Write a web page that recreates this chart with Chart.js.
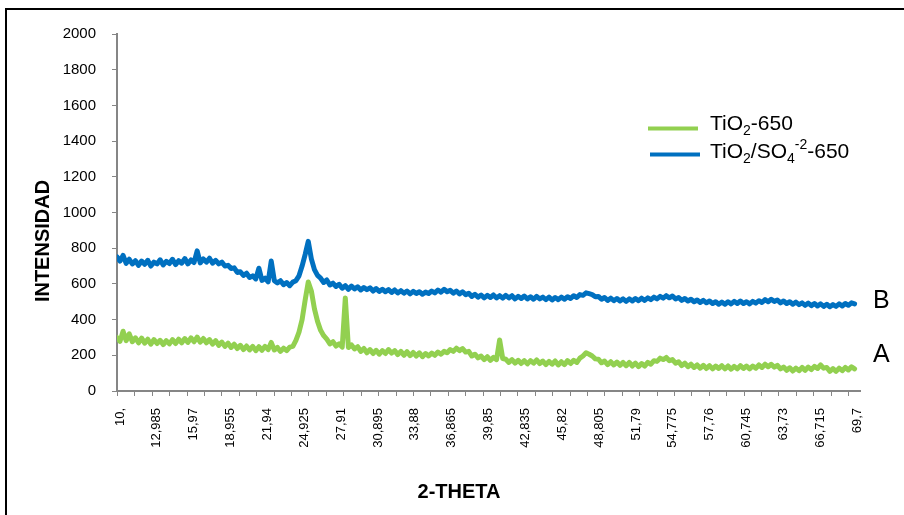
<!DOCTYPE html>
<html><head><meta charset="utf-8">
<script src="https://cdn.jsdelivr.net/npm/chart.js@4"></script>
<style>html,body{margin:0;padding:0;background:#fff}canvas{display:block}</style>
</head><body>
<canvas id="c" width="904" height="515"></canvas>
<script>
// 2-theta sampling positions (degrees)
const twoTheta = [
9.75,10,10.25,10.5,10.75,11,11.25,11.5,11.75,12,12.25,12.5,12.75,13,13.25,13.5,13.75,14,14.25,14.5,
14.75,15,15.25,15.5,15.75,16,16.25,16.5,16.75,17,17.25,17.5,17.75,18,18.25,18.5,18.75,19,19.25,19.5,
19.75,20,20.25,20.5,20.75,21,21.25,21.5,21.75,22,22.25,22.5,22.75,23,23.25,23.5,23.75,24,24.25,24.5,
24.75,25,25.25,25.5,25.75,26,26.25,26.5,26.75,27,27.25,27.5,27.75,28,28.25,28.5,28.75,29,29.25,29.5,
29.75,30,30.25,30.5,30.75,31,31.25,31.5,31.75,32,32.25,32.5,32.75,33,33.25,33.5,33.75,34,34.25,34.5,
34.75,35,35.25,35.5,35.75,36,36.25,36.5,36.75,37,37.25,37.5,37.75,38,38.25,38.5,38.75,39,39.25,39.5,
39.75,40,40.25,40.5,40.75,41,41.25,41.5,41.75,42,42.25,42.5,42.75,43,43.25,43.5,43.75,44,44.25,44.5,
44.75,45,45.25,45.5,45.75,46,46.25,46.5,46.75,47,47.25,47.5,47.75,48,48.25,48.5,48.75,49,49.25,49.5,
49.75,50,50.25,50.5,50.75,51,51.25,51.5,51.75,52,52.25,52.5,52.75,53,53.25,53.5,53.75,54,54.25,54.5,
54.75,55,55.25,55.5,55.75,56,56.25,56.5,56.75,57,57.25,57.5,57.75,58,58.25,58.5,58.75,59,59.25,59.5,
59.75,60,60.25,60.5,60.75,61,61.25,61.5,61.75,62,62.25,62.5,62.75,63,63.25,63.5,63.75,64,64.25,64.5,
64.75,65,65.25,65.5,65.75,66,66.25,66.5,66.75,67,67.25,67.5,67.75,68,68.25,68.5,68.75,69,69.25,69.5
];

// A : TiO2-650 (green)
const tio2_650 = [
300,278,335,282,320,276,298,270,296,268,290,262,288,266,284,260,282,264,288,266,
290,270,294,272,298,276,302,274,294,270,288,262,282,256,274,250,268,244,262,238,
256,232,252,230,250,226,248,228,250,232,272,230,244,222,240,226,246,250,284,330,
400,510,611,560,460,390,340,310,290,264,276,252,264,246,521,244,258,236,248,222,
238,214,232,210,228,206,226,210,232,212,226,204,222,200,220,198,216,196,214,192,
210,196,212,200,218,206,222,214,232,222,240,226,238,218,222,196,206,186,196,176,
192,172,188,176,286,182,178,160,176,156,172,154,170,152,170,156,174,154,168,148,
166,150,168,146,164,148,170,154,172,160,184,196,214,206,196,180,178,158,168,148,
164,146,162,144,160,142,160,140,156,136,154,140,160,150,170,166,184,176,188,170,
176,156,164,142,156,136,150,132,146,128,144,126,142,124,140,126,142,124,140,122,
138,124,142,126,140,124,140,128,146,132,150,136,150,134,144,124,134,116,130,112,
128,114,132,116,134,120,138,126,146,128,132,110,126,110,128,114,132,118,136,124
];

// B : TiO2/SO4-2-650 (blue)
const tio2so4_650 = [
752,728,760,715,738,712,730,704,728,710,732,700,722,712,735,706,726,714,738,708,
730,716,742,712,734,720,785,718,740,722,744,716,732,712,722,700,704,686,690,664,
668,648,660,636,645,628,688,620,632,612,728,618,606,618,596,608,590,610,618,645,
700,765,838,740,680,648,632,608,622,594,604,586,598,576,590,570,588,572,584,566,
580,568,578,560,574,558,570,556,568,552,566,550,562,548,560,544,558,546,556,542,
554,546,560,550,566,554,570,556,564,548,560,544,556,540,548,530,542,526,538,522,
536,524,538,522,534,520,536,522,534,516,530,518,532,516,528,514,530,516,526,512,
526,510,524,512,526,514,528,518,534,524,540,536,550,545,540,528,530,514,524,508,
520,506,518,504,516,502,516,504,518,506,520,508,522,512,526,516,530,520,534,522,
532,516,524,508,518,504,514,500,510,496,508,494,504,490,500,486,498,486,500,488,
502,490,504,490,500,488,502,492,506,496,512,500,514,502,510,494,504,490,500,486,
498,484,494,480,492,478,490,476,488,474,486,472,484,474,488,476,490,480,494,488
];

const xTickLabels = ['10,','12,985','15,97','18,955','21,94','24,925','27,91','30,895','33,88','36,865',
  '39,85','42,835','45,82','48,805','51,79','54,775','57,76','60,745','63,73','66,715','69,7'];
const xTickValues = xTickLabels.map(s => parseFloat(s.replace(',', '.')));

const seriesNames = ['TiO2-650', 'TiO2/SO4-2-650'];
const seriesColors = ['#92D050', '#0070C0'];
const curveTags = ['A', 'B'];

const FONT = "'Liberation Sans', Arial, sans-serif";
const AXIS_GRAY = '#868686';

function drawRich(ctx, x, y, parts) {
  for (const [t, mode] of parts) {
    let dy = 0;
    if (mode === 'sub') { ctx.font = '14px ' + FONT; dy = 5; }
    else if (mode === 'sup') { ctx.font = '14px ' + FONT; dy = -9; }
    else { ctx.font = '21px ' + FONT; }
    ctx.fillText(t, x, y + dy);
    x += ctx.measureText(t).width;
  }
}

const decor = {
  id: 'decor',
  beforeDraw(chart) {
    const ctx = chart.ctx;
    ctx.save();
    ctx.fillStyle = '#fff';
    ctx.fillRect(0, 0, chart.width, chart.height);
    ctx.fillStyle = '#000';
    ctx.fillRect(5, 8, chart.width, 2);
    ctx.fillRect(5, 8, 2, chart.height);
    ctx.restore();
  },
  afterDraw(chart) {
    const ctx = chart.ctx;
    const xs = chart.scales.x;
    ctx.save();
    // x tick marks
    ctx.strokeStyle = AXIS_GRAY;
    ctx.lineWidth = 1;
    ctx.beginPath();
    for (let v = xs.min; v <= xs.max - 0.5; v += 1.41) {
      const px = Math.round(xs.getPixelForValue(v)) + 0.5;
      ctx.moveTo(px, xs.top);
      ctx.lineTo(px, xs.top + 5);
    }
    ctx.stroke();
    // axis titles
    ctx.fillStyle = '#000';
    ctx.font = 'bold 20px ' + FONT;
    ctx.textAlign = 'center';
    ctx.textBaseline = 'middle';
    ctx.fillText('2-THETA', 459, 492);
    ctx.save();
    ctx.translate(43, 241);
    ctx.rotate(-Math.PI / 2);
    ctx.fillText('INTENSIDAD', 0, 0);
    ctx.restore();
    // legend
    ctx.textAlign = 'left';
    ctx.textBaseline = 'alphabetic';
    ctx.lineWidth = 4;
    ctx.strokeStyle = seriesColors[0];
    ctx.beginPath(); ctx.moveTo(648, 128.5); ctx.lineTo(698, 128.5); ctx.stroke();
    ctx.strokeStyle = seriesColors[1];
    ctx.beginPath(); ctx.moveTo(650, 154.5); ctx.lineTo(700, 154.5); ctx.stroke();
    ctx.fillStyle = '#000';
    drawRich(ctx, 710, 130, [['TiO', 0], ['2', 'sub'], ['-650', 0]]);
    drawRich(ctx, 710, 158, [['TiO', 0], ['2', 'sub'], ['/SO', 0], ['4', 'sub'], ['-2', 'sup'], ['-650', 0]]);
    // curve tags
    ctx.font = '25px ' + FONT;
    ctx.fillText(curveTags[1], 873, 308);
    ctx.fillText(curveTags[0], 873, 362);
    ctx.restore();
  }
};

new Chart(document.getElementById('c'), {
  type: 'line',
  data: {
    datasets: [
      { label: seriesNames[0], data: twoTheta.map((x, i) => ({ x, y: tio2_650[i] })),
        borderColor: seriesColors[0], borderWidth: 5, borderJoinStyle: 'round', borderCapStyle: 'round',
        pointRadius: 0, tension: 0 },
      { label: seriesNames[1], data: twoTheta.map((x, i) => ({ x, y: tio2so4_650[i] })),
        borderColor: seriesColors[1], borderWidth: 5, borderJoinStyle: 'round', borderCapStyle: 'round',
        pointRadius: 0, tension: 0 }
    ]
  },
  options: {
    responsive: false,
    devicePixelRatio: 1,
    animation: false,
    events: [],
    layout: { padding: { top: 34, right: 44, left: 0, bottom: 0 } },
    plugins: { legend: { display: false }, tooltip: { enabled: false } },
    scales: {
      x: {
        type: 'linear',
        min: 9.757,
        max: 69.94,
        afterBuildTicks: s => { s.ticks = xTickValues.map(v => ({ value: v })); },
        afterFit: s => { s.height = 124; s.paddingLeft = 0; s.paddingRight = 0; },
        grid: { display: true, drawOnChartArea: false, tickLength: 5, tickColor: 'rgba(0,0,0,0)' },
        border: { display: true, color: AXIS_GRAY, width: 2 },
        ticks: {
          autoSkip: false, maxRotation: 90, minRotation: 90, padding: 12,
          color: '#000', font: { family: FONT, size: 13 },
          callback: (v, i) => xTickLabels[i]
        }
      },
      y: {
        min: 0, max: 2000,
        afterFit: s => { s.width = 117; },
        grid: { display: true, drawOnChartArea: false, tickLength: 5, tickColor: AXIS_GRAY, tickWidth: 1 },
        border: { display: true, color: AXIS_GRAY, width: 2 },
        ticks: { stepSize: 200, padding: 16, color: '#000', font: { family: FONT, size: 15 },
                 callback: v => String(v) }
      }
    }
  },
  plugins: [decor]
});
</script>
</body></html>
